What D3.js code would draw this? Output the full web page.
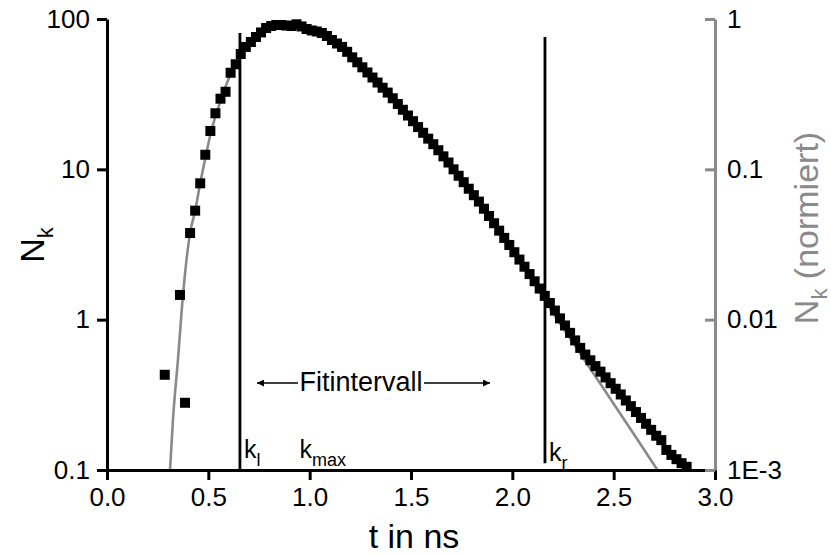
<!DOCTYPE html>
<html lang="de">
<head>
    <meta charset="UTF-8">
    <title>Nk</title>
    <script src="https://cdn.jsdelivr.net/npm/d3@7"></script>
    <style>
        body { margin: 0; background: #fff; }
        svg text { font-family: "Liberation Sans", Arial, sans-serif; }
    </style>
</head>
<body>

<script>
    // Messpunkte: t in ns und Zaehlrate N_k
    const times = [
        0.285, 0.36, 0.385, 0.41, 0.435, 0.46, 0.485, 0.51, 0.535, 0.56,
        0.585, 0.61, 0.635, 0.66, 0.685, 0.71, 0.735, 0.76, 0.785, 0.81,
        0.835, 0.86, 0.885, 0.91, 0.935, 0.96, 0.985, 1.01, 1.035, 1.06,
        1.085, 1.11, 1.135, 1.16, 1.185, 1.21, 1.235, 1.26, 1.285, 1.31,
        1.335, 1.36, 1.385, 1.41, 1.435, 1.46, 1.485, 1.51, 1.535, 1.56,
        1.585, 1.61, 1.635, 1.66, 1.685, 1.71, 1.735, 1.76, 1.785, 1.81,
        1.835, 1.86, 1.885, 1.91, 1.935, 1.96, 1.985, 2.01, 2.035, 2.06,
        2.085, 2.11, 2.135, 2.16, 2.185, 2.21, 2.235, 2.26, 2.285, 2.31,
        2.335, 2.36, 2.385, 2.41, 2.435, 2.46, 2.485, 2.51, 2.535, 2.56,
        2.585, 2.61, 2.635, 2.66, 2.685, 2.71, 2.735, 2.76, 2.785, 2.81,
        2.835, 2.86
    ];
    const counts = [
        0.43, 1.46, 0.28, 3.77, 5.31, 8.07, 12.5, 18.0, 23.6, 29.5,
        32.8, 43.9, 50.0, 58.5, 65.2, 70.3, 75.9, 81.4, 87.1, 89.8,
        91.2, 91.2, 90.5, 89.8, 92.2, 89.2, 85.8, 83.9, 82.6, 80.7,
        77.1, 72.5, 68.7, 65.2, 60.5, 55.6, 51.5, 47.7, 44.1, 40.8,
        37.8, 34.9, 32.4, 29.7, 27.2, 24.9, 22.8, 20.9, 19.1, 17.5,
        16.0, 14.7, 13.4, 12.2, 11.1, 10.0, 9.06, 8.21, 7.43, 6.73,
        6.10, 5.47, 4.89, 4.38, 3.91, 3.50, 3.14, 2.81, 2.51, 2.25,
        2.01, 1.80, 1.61, 1.44, 1.29, 1.15, 1.02, 0.915, 0.817, 0.728,
        0.649, 0.586, 0.537, 0.491, 0.451, 0.413, 0.378, 0.347, 0.318, 0.290,
        0.266, 0.243, 0.222, 0.203, 0.185, 0.169, 0.158, 0.136, 0.126, 0.118,
        0.111, 0.105
    ];

    // Fitkurve (grau)
    const fitTimes = [
        0.311, 0.326, 0.35, 0.375, 0.41, 0.435, 0.46, 0.485, 0.51, 0.535,
        0.56, 0.585, 0.61, 0.635, 0.66, 0.71, 0.76, 0.81, 0.86, 0.91,
        0.96, 1.01, 1.085, 1.185, 1.285, 1.385, 1.485, 1.585, 1.685, 1.785,
        1.885, 1.985, 2.085, 2.17, 2.3, 2.45, 2.6, 2.716
    ];
    const fitCounts = [
        0.1, 0.222, 0.54, 1.46, 3.78, 5.3, 8.1, 11.8, 17.0, 22.5,
        28.5, 35.5, 43, 50, 57, 69, 80, 88, 91, 90.5,
        88, 84, 77, 61, 44.1, 32.4, 22.8, 16.0, 11.1, 7.43,
        4.89, 3.12, 1.98, 1.285, 0.701, 0.348, 0.173, 0.1
    ];

    // Achsen
    const xTicks = [0, 0.5, 1.0, 1.5, 2.0, 2.5, 3.0];
    const xMinor = [0.25, 0.75, 1.25, 1.75, 2.25, 2.75];
    const yTicks = [0.1, 1, 10, 100];
    const yTickLabels = ["0.1", "1", "10", "100"];
    const yRightTicks = [0.001, 0.01, 0.1, 1];
    const yRightLabels = ["1E-3", "0.01", "0.1", "1"];

    // Fitgrenzen k_l, k_r : t, oberes und unteres Ende
    const fitBounds = [
        {name: "l", t: 0.656, top: 80.7, bottom: 0.1},
        {name: "r", t: 2.161, top: 75.9, bottom: 0.111}
    ];
    const kMaxT = 0.955;

    var w = 831, h = 555;
    var padL = 107, padR = 715, padT = 19, padB = 470;
    var grey = "#8a8a8a";

    var svg = d3.select("body").append("svg")
        .attr("width", w)
        .attr("height", h);

    var x = d3.scaleLinear().domain([0, 3]).range([padL, padR]);
    var y = d3.scaleLog().domain([0.1, 100]).range([padB, padT]);
    var yR = d3.scaleLog().domain([0.001, 1]).range([padB, padT]);

    // Nebenteilstriche auf log Achse
    function minors(lo, hi) {
        var out = [];
        for (var d = lo; d < hi; d *= 10) {
            for (var m = 2; m <= 9; m++) out.push(+(d * m).toPrecision(3));
        }
        return out;
    }

    // Fitkurve
    var line = d3.line()
        .x(function (d) { return x(d[0]); })
        .y(function (d) { return y(d[1]); })
        .curve(d3.curveMonotoneX);
    svg.append("path")
        .datum(d3.zip(fitTimes, fitCounts))
        .attr("d", line)
        .attr("fill", "none")
        .attr("stroke", grey)
        .attr("stroke-width", 2.6);

    // Messpunkte
    var sq = 10;
    svg.append("g").selectAll("rect")
        .data(d3.zip(times, counts))
        .enter()
        .append("rect")
        .attr("x", function (d) { return x(d[0]) - sq / 2; })
        .attr("y", function (d) { return y(d[1]) - sq / 2; })
        .attr("width", sq)
        .attr("height", sq)
        .attr("fill", "#000");

    // Fitgrenzen
    svg.append("g").selectAll("line")
        .data(fitBounds)
        .enter()
        .append("line")
        .attr("x1", function (d) { return x(d.t); })
        .attr("x2", function (d) { return x(d.t); })
        .attr("y1", function (d) { return y(d.top); })
        .attr("y2", function (d) { return y(d.bottom); })
        .attr("stroke", "#000")
        .attr("stroke-width", 2.8);

    // Beschriftung k_l, k_max, k_r
    function kLabel(px, py, sub) {
        var t = svg.append("text")
            .attr("x", px)
            .attr("y", py)
            .attr("font-size", "25px")
            .attr("fill", "#000");
        t.append("tspan").text("k");
        t.append("tspan").attr("font-size", "18px").attr("dy", 8).text(sub);
    }
    kLabel(x(fitBounds[0].t) + 4, 458, "l");
    kLabel(x(kMaxT) - 1, 458, "max");
    kLabel(x(fitBounds[1].t) + 4, 461, "r");

    // Fitintervall mit Pfeilen
    var defs = svg.append("defs");
    defs.append("marker")
        .attr("id", "arr")
        .attr("viewBox", "0 0 10 10")
        .attr("refX", 10).attr("refY", 5)
        .attr("markerWidth", 13).attr("markerHeight", 7)
        .attr("markerUnits", "userSpaceOnUse")
        .attr("orient", "auto")
        .append("path")
        .attr("d", "M0,0 L10,5 L0,10 Z")
        .attr("fill", "#000");

    var arrowY = 383;
    svg.append("line")
        .attr("x1", 298).attr("x2", 257)
        .attr("y1", arrowY).attr("y2", arrowY)
        .attr("stroke", "#000").attr("stroke-width", 1.5)
        .attr("marker-end", "url(#arr)");
    svg.append("line")
        .attr("x1", 424).attr("x2", 490)
        .attr("y1", arrowY).attr("y2", arrowY)
        .attr("stroke", "#000").attr("stroke-width", 1.5)
        .attr("marker-end", "url(#arr)");
    svg.append("text")
        .attr("x", 361)
        .attr("y", 391)
        .attr("text-anchor", "middle")
        .attr("font-size", "27px")
        .text("Fitintervall");

    // x Achse
    var gx = svg.append("g").attr("transform", "translate(0," + padB + ")");
    gx.call(d3.axisBottom(x).tickValues(xMinor).tickSize(6).tickSizeOuter(0).tickFormat(""));
    gx.call(d3.axisBottom(x).tickValues(xTicks).tickSize(10).tickSizeOuter(0)
        .tickPadding(8).tickFormat(d3.format(".1f")));

    // y Achse links
    var gy = svg.append("g").attr("transform", "translate(" + padL + ",0)");
    gy.call(d3.axisLeft(y).tickValues(minors(0.1, 100)).tickSize(6).tickSizeOuter(0).tickFormat(""));
    gy.call(d3.axisLeft(y).tickValues(yTicks).tickSize(10).tickSizeOuter(0).tickPadding(7)
        .tickFormat(function (d, i) { return yTickLabels[i]; }));

    // y Achse rechts (grau, normiert)
    var gr = svg.append("g").attr("transform", "translate(" + padR + ",0)");
    gr.call(d3.axisRight(yR).tickValues(minors(0.001, 1)).tickSizeInner(-6).tickSizeOuter(0).tickFormat(""));
    gr.call(d3.axisRight(yR).tickValues(yRightTicks).tickSizeInner(-10).tickSizeOuter(0).tickPadding(12)
        .tickFormat(function (d, i) { return yRightLabels[i]; }));

    svg.selectAll(".domain").attr("stroke-width", 3);
    svg.selectAll(".tick line").attr("stroke-width", 3);
    svg.selectAll(".tick text")
        .attr("font-size", "26px")
        .attr("font-family", "Liberation Sans, Arial, sans-serif")
        .attr("fill", "#000");
    gr.selectAll(".domain, .tick line").attr("stroke", grey);
    gx.selectAll(".domain, .tick line").attr("stroke", "#000");
    gy.selectAll(".domain, .tick line").attr("stroke", "#000");

    // Achsentitel
    svg.append("text")
        .attr("x", (padL + padR) / 2 + 3)
        .attr("y", 548)
        .attr("text-anchor", "middle")
        .attr("font-size", "34px")
        .text("t in ns");

    var yl = svg.append("text")
        .attr("transform", "translate(44,245) rotate(-90)")
        .attr("text-anchor", "middle")
        .attr("font-size", "34px")
        .attr("fill", "#000");
    yl.append("tspan").text("N");
    yl.append("tspan").attr("font-size", "22px").attr("dy", 9).text("k");

    var yr = svg.append("text")
        .attr("transform", "translate(818,228) rotate(-90)")
        .attr("text-anchor", "middle")
        .attr("font-size", "34px")
        .attr("fill", grey);
    yr.append("tspan").text("N");
    yr.append("tspan").attr("font-size", "22px").attr("dy", 9).text("k");
    yr.append("tspan").attr("dy", -9).text(" (normiert)");

</script>

</body>
</html>
